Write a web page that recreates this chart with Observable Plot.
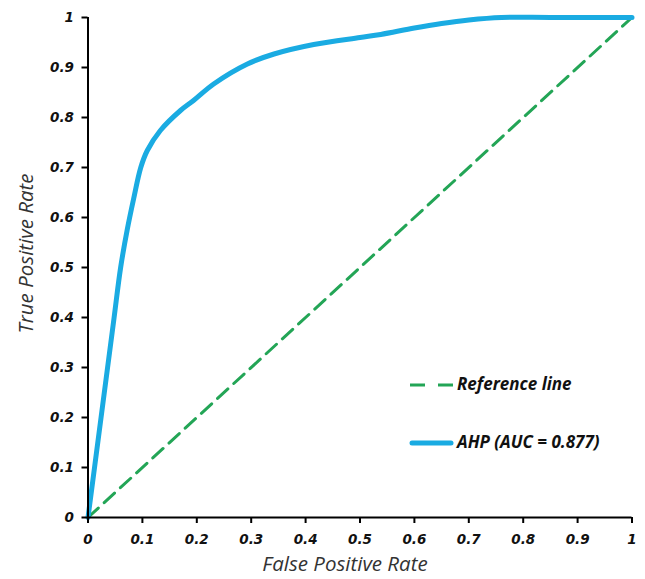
<!DOCTYPE html>
<html>
<head>
<meta charset="utf-8">
<script src="https://cdn.jsdelivr.net/npm/d3@7"></script>
<script src="https://cdn.jsdelivr.net/npm/@observablehq/plot@0.6"></script>
<style>
  html, body { margin: 0; padding: 0; background: #fff; }
  #wrap { position: relative; width: 645px; height: 579px; }
  #legend { position: absolute; left: 0; top: 0; width: 645px; height: 579px; pointer-events: none; }
  .lg { position: absolute; font-family: "Open Sans", sans-serif; font-weight: 700; font-style: italic; font-size: 17px; color: #111; white-space: nowrap; line-height: 20px; }
</style>
</head>
<body>
<div id="wrap"></div>
<script>
// ROC curve values
const fpr = [0, 0.024, 0.036, 0.048, 0.060, 0.072, 0.084, 0.097, 0.109, 0.133, 0.170, 0.194, 0.231, 0.293, 0.342, 0.415, 0.5, 0.538, 0.600, 0.650, 0.700, 0.760, 0.85, 1];
const tpr = [0, 0.20, 0.30, 0.40, 0.50, 0.575, 0.638, 0.70, 0.734, 0.774, 0.814, 0.834, 0.867, 0.907, 0.927, 0.946, 0.960, 0.966, 0.979, 0.988, 0.995, 1.0, 1.0, 1.0];
// Reference (chance) line
const refX = [0, 1];
const refY = [0, 1];
// Ticks
const xTicks = [0, 0.1, 0.2, 0.3, 0.4, 0.5, 0.6, 0.7, 0.8, 0.9, 1];
const yTicks = [0, 0.1, 0.2, 0.3, 0.4, 0.5, 0.6, 0.7, 0.8, 0.9, 1];
// Labels
const xLabel = "False Positive Rate";
const yLabel = "True Positive Rate";
const legendLabels = ["Reference line", "AHP (AUC = 0.877)"];

const blue = "#1aabe2";
const green = "#23a556";

const roc = fpr.map((x, i) => ({x, y: tpr[i]}));
const ref = refX.map((x, i) => ({x, y: refY[i]}));
const fmt = d => (d === 0 || d === 1) ? String(d) : d.toFixed(1);

const tickFont = {fontFamily: "DejaVu Sans", fontWeight: "bold", fontStyle: "italic", fontSize: 13.5, fill: "#111"};

const chart = Plot.plot({
  width: 645,
  height: 579,
  marginLeft: 87.5,
  marginRight: 13.5,
  marginTop: 17,
  marginBottom: 62,
  style: {background: "#fff", overflow: "visible"},
  x: {domain: [0, 1]},
  y: {domain: [0, 1]},
  marks: [
    Plot.line(ref, {x: "x", y: "y", stroke: green, strokeWidth: 3, strokeDasharray: "14,8"}),
    Plot.line(roc, {x: "x", y: "y", stroke: blue, strokeWidth: 5, curve: "catmull-rom", strokeLinecap: "round", strokeLinejoin: "round"}),
    Plot.ruleX([0], {stroke: "#000", strokeWidth: 2}),
    Plot.ruleY([0], {stroke: "#000", strokeWidth: 2}),
    Plot.axisX({ticks: xTicks, tickFormat: fmt, tickSize: 6, tickPadding: 11, strokeWidth: 2, stroke: "#000", label: null, ...tickFont}),
    Plot.axisY({ticks: yTicks, tickFormat: fmt, tickSize: 6, tickPadding: 8, strokeWidth: 2, stroke: "#000", label: null, ...tickFont}),
    Plot.text([xLabel], {frameAnchor: "bottom", textAnchor: "middle", dy: 53, dx: -15, fontFamily: "Open Sans", fontStyle: "italic", fontSize: 20.5, fill: "#333"}),
    Plot.text([yLabel], {frameAnchor: "left", textAnchor: "middle", rotate: -90, dx: -62, dy: -14, fontFamily: "Open Sans", fontStyle: "italic", fontSize: 20.5, fill: "#333"})
  ]
});
const wrap = document.getElementById("wrap");
wrap.appendChild(chart);

// Legend overlay
const lg = document.createElement("div");
lg.id = "legend";
lg.innerHTML = `
  <svg width="645" height="579" style="position:absolute;left:0;top:0">
    <line x1="410" y1="385" x2="453" y2="385" stroke="${green}" stroke-width="3" stroke-dasharray="15,13"/>
    <line x1="412" y1="443" x2="451" y2="443" stroke="${blue}" stroke-width="5" stroke-linecap="round"/>
  </svg>
  <div class="lg" style="left:457px;top:374px">${legendLabels[0]}</div>
  <div class="lg" style="left:457px;top:432px">${legendLabels[1]}</div>
`;
wrap.appendChild(lg);
</script>
</body>
</html>
